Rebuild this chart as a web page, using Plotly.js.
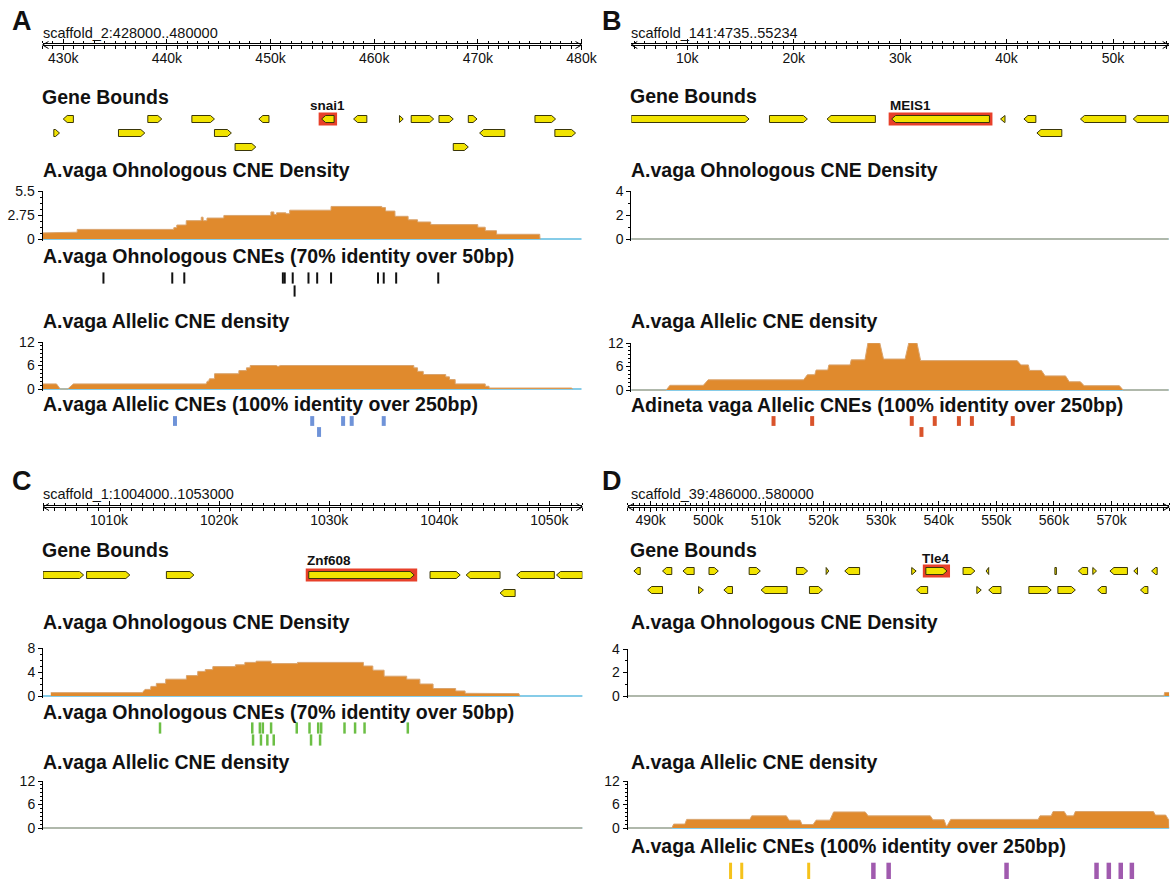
<!DOCTYPE html>
<html><head><meta charset="utf-8">
<script src="https://cdn.plot.ly/plotly-3.0.1.min.js"></script>
<style>html,body{margin:0;padding:0;background:#fff}#chart{width:1173px;height:879px}</style>
</head><body><div id="chart"></div>
<script>
// ================= DATA =================
// Panel A : scaffold_2
const A_range = [428000, 480000];
const A_tickVals = [430000, 440000, 450000, 460000, 470000, 480000];
const A_tickText = ['430k', '440k', '450k', '460k', '470k', '480k'];
const A_geneStart  = [430000, 438160, 442410, 448870, 454930, 458010, 462440, 463570, 466250, 469080, 475510, 429090, 435330, 444590, 470170, 477430, 446580, 467630];
const A_geneEnd    = [430980, 439510, 444590, 449850, 456130, 459290, 462800, 465740, 467630, 469920, 477500, 429640, 437870, 446220, 472600, 479430, 448580, 469080];
const A_geneStrand = [-1, 1, 1, -1, -1, -1, 1, 1, 1, 1, 1, 1, 1, 1, -1, 1, 1, 1];
const A_geneRow    = [1, 1, 1, 1, 1, 1, 1, 1, 1, 1, 1, 2, 2, 2, 2, 2, 3, 3];
const A_highlight = 4, A_highlightName = 'snai1';
const A_ohnoX0 = [428000, 430260, 431350, 440670, 440960, 441870, 443320, 443500, 443870, 445500, 450040, 450330, 450580, 451490, 451850, 455840, 460740, 461100, 462010, 463280, 464190, 465460, 470000, 470720, 471810, 476000];
const A_ohnoX1 = [430250, 431340, 440660, 440950, 441860, 443310, 443490, 443860, 445490, 450030, 450320, 450570, 451480, 451840, 455830, 460730, 461090, 462000, 463270, 464180, 465450, 469990, 470710, 471800, 475970, 476020];
const A_ohnoV  = [0.7, 0.78, 1.1, 1.3, 1.6, 2.1, 2.5, 2.1, 2.4, 2.7, 3.1, 2.8, 3.0, 2.9, 3.3, 3.73, 3.6, 3.2, 2.6, 2.2, 1.95, 1.65, 1.35, 0.95, 0.54, 0];
const A_ohnoTicks = [0, 2.75, 5.5];
const A_ohnoTickText = ['0', '2.75', '5.5'];
const A_ohnoCneX   = [433880, 440520, 441680, 451190, 451370, 452140, 453660, 454500, 455840, 460370, 460920, 462120, 466180, 452320];
const A_ohnoCneRow = [1, 1, 1, 1, 1, 1, 1, 1, 1, 1, 1, 1, 1, 2];
const A_alleX0 = [428000, 429710, 430980, 443900, 444100, 444600, 446950, 447680, 448040, 450680, 450940, 463830, 464190, 464740, 466910, 467270, 467820, 470720, 471090, 479100];
const A_alleX1 = [429350, 430430, 443790, 444040, 444590, 446940, 447670, 448030, 450570, 450800, 463820, 464180, 464730, 466900, 467260, 467810, 470710, 471080, 479060, 479150];
const A_alleV  = [1.3, 0, 1.3, 2.0, 2.6, 3.9, 4.7, 5.4, 6.0, 5.8, 6.0, 5.4, 4.5, 3.7, 3.1, 2.4, 1.3, 0.7, 0.25, 0];
const A_alleCneX   = [440780, 454020, 457000, 457830, 460920, 454680];
const A_alleCneRow = [1, 1, 1, 1, 1, 2];

// Panel B : scaffold_141
const B_range = [4735, 55234];
const B_tickVals = [10000, 20000, 30000, 40000, 50000];
const B_tickText = ['10k', '20k', '30k', '40k', '50k'];
const B_geneStart  = [4735, 17720, 23130, 29200, 39430, 41630, 46940, 51900, 42850];
const B_geneEnd    = [15800, 21280, 27670, 38390, 39850, 42750, 51200, 55234, 45190];
const B_geneStrand = [1, 1, -1, -1, -1, -1, -1, -1, -1];
const B_geneRow    = [1, 1, 1, 1, 1, 1, 1, 1, 2];
const B_highlight = 3, B_highlightName = 'MEIS1';
const B_ohnoX0 = [4735], B_ohnoX1 = [55234], B_ohnoV = [0];
const B_ohnoTicks = [0, 2, 4];
const B_ohnoTickText = ['0', '2', '4'];
const B_alleX0 = [4735, 8363, 11958, 21279, 22100, 23300, 25400, 26970, 28436, 30810, 31927, 41353, 42150, 43622, 45891, 47287, 50953];
const B_alleX1 = [8014, 11505, 20930, 21977, 23199, 25294, 26690, 28087, 30461, 31578, 41004, 42051, 43273, 45542, 46938, 50604, 55234];
const B_alleV  = [0, 1.2, 2.6, 3.9, 5.1, 6.4, 7.7, 12, 7.9, 12, 7.5, 6.4, 5.0, 3.6, 2.1, 1.1, 0];
const B_alleCneX   = [18100, 21730, 31090, 33250, 35520, 36740, 40580, 32000];
const B_alleCneRow = [1, 1, 1, 1, 1, 1, 1, 2];

// Panel C : scaffold_1
const C_range = [1004000, 1053000];
const C_tickVals = [1010000, 1020000, 1030000, 1040000, 1050000];
const C_tickText = ['1010k', '1020k', '1030k', '1040k', '1050k'];
const C_geneStart  = [1004000, 1007960, 1015210, 1028140, 1039160, 1042440, 1047030, 1050650, 1045520];
const C_geneEnd    = [1007690, 1011890, 1017710, 1037720, 1041900, 1045520, 1050450, 1053000, 1046890];
const C_geneStrand = [1, 1, 1, 1, 1, -1, -1, -1, -1];
const C_geneRow    = [1, 1, 1, 1, 1, 1, 1, 1, 2];
const C_highlight = 3, C_highlightName = 'Znf608';
const C_ohnoX0 = [1004709, 1013262, 1013800, 1014300, 1015150, 1017030, 1018060, 1018740, 1019430, 1021480, 1022340, 1023360, 1024730, 1027120, 1033110, 1033970, 1034990, 1037040, 1038240, 1039440, 1041490, 1042350, 1043710, 1047300];
const C_ohnoX1 = [1013022, 1013775, 1014288, 1015143, 1017025, 1018051, 1018735, 1019420, 1021472, 1022328, 1023354, 1024722, 1027117, 1033104, 1033959, 1034985, 1037038, 1038235, 1039433, 1041485, 1042340, 1043709, 1047233, 1047350];
const C_ohnoV  = [0.56, 1.1, 1.6, 2.1, 2.8, 3.4, 4.1, 4.4, 4.9, 5.2, 5.6, 5.8, 5.4, 5.6, 5.0, 4.3, 3.3, 2.8, 2.0, 1.25, 0.84, 0.45, 0.4, 0];
const C_ohnoTicks = [0, 4, 8];
const C_ohnoTickText = ['0', '4', '8'];
const C_ohnoCneX   = [1014630, 1023010, 1023700, 1023970, 1024720, 1027050, 1028210, 1029000, 1029270, 1031390, 1032350, 1033210, 1037140, 1023080, 1023800, 1024380, 1024960, 1028350, 1029170];
const C_ohnoCneRow = [1, 1, 1, 1, 1, 1, 1, 1, 1, 1, 1, 1, 1, 2, 2, 2, 2, 2, 2];
const C_alleX0 = [1004000], C_alleX1 = [1053000], C_alleV = [0];

// Panel D : scaffold_39
const D_range = [486000, 580000];
const D_tickVals = [490000, 500000, 510000, 520000, 530000, 540000, 550000, 560000, 570000];
const D_tickText = ['490k', '500k', '510k', '520k', '530k', '540k', '550k', '560k', '570k'];
const D_geneStart  = [487090, 492060, 495610, 500130, 507100, 515300, 520460, 523690, 535310, 537760, 544220, 548220, 560160, 564230, 566740, 569710, 573850, 576940,
                      489480, 498320, 502710, 509170, 517560, 536150, 546610, 548670, 555640, 560680, 567580, 575010];
const D_geneEnd    = [488190, 493670, 497550, 501740, 509040, 517240, 520910, 526270, 536080, 541440, 546280, 548670, 560420, 565840, 567390, 572750, 574490, 577910,
                      492060, 499160, 504200, 513690, 519820, 538080, 547380, 550800, 559520, 563710, 569070, 576300];
const D_geneStrand = [-1, -1, -1, 1, 1, 1, 1, -1, 1, 1, 1, -1, 0, -1, 1, -1, -1, -1,
                      -1, 1, -1, -1, 1, -1, 1, -1, 1, 1, -1, -1];
const D_geneRow    = [1, 1, 1, 1, 1, 1, 1, 1, 1, 1, 1, 1, 1, 1, 1, 1, 1, 1,
                      2, 2, 2, 2, 2, 2, 2, 2, 2, 2, 2, 2];
const D_highlight = 9, D_highlightName = 'Tle4';
const D_ohnoX0 = [486000, 579200], D_ohnoX1 = [579100, 580000], D_ohnoV = [0, 0.3];
const D_ohnoTicks = [0, 2, 4];
const D_ohnoTickText = ['0', '2', '4'];
const D_alleX0 = [486000, 493997, 496256, 507552, 514007, 516267, 518719, 521753, 527756, 538988, 541300, 542086, 557579, 559838, 562227, 563712, 577591, 579850, 579990];
const D_alleX1 = [493674, 495933, 507230, 513556, 515944, 518203, 521108, 527240, 538536, 540924, 541441, 557256, 559515, 561775, 563389, 577268, 579398, 579950, 580000];
const D_alleV  = [0, 1.0, 2.2, 3.1, 2.0, 0.9, 2.0, 4.1, 3.1, 2.1, 0.5, 2.2, 3.1, 4.2, 3.1, 4.2, 3.3, 2.2, 0];
const D_alleCneX   = [503870, 505810, 517430, 528660, 531310, 551770, 567390, 569520, 571590, 573520];
const D_alleCneRow = [1, 1, 1, 1, 1, 1, 1, 1, 1, 1];
const D_alleCneSet = [1, 1, 1, 2, 2, 2, 2, 2, 2, 2];

const ALLELIC_TICKS = [0, 6, 12];
const ALLELIC_TICKTEXT = ['0', '6', '12'];

// ================= STYLE / LAYOUT =================
const W = 1173, H = 879;
const FONT = '"Liberation Sans", Arial, Helvetica, sans-serif';
const TITLE_SIZE = 19.5;
const COL = {
  gene: '#F1E300', geneLine: '#3a3608', highlight: '#E8402A',
  dens: '#E08A2D', densLine: '#D9A46E', base: '#86CCE8',
  black: '#111111', blueCne: '#6F93D8', redCne: '#D9532B', greenCne: '#6CBF45',
  yellowCne: '#F5C21B', purpleCne: '#A05AAE'
};
const fx = p => p / W;
const fy = p => 1 - p / H;

const traces = [];
const layout = {
  width: W, height: H, margin: {l: 0, r: 0, t: 0, b: 0},
  paper_bgcolor: '#ffffff', plot_bgcolor: 'rgba(0,0,0,0)',
  showlegend: false, hovermode: false,
  font: {family: FONT, color: COL.black},
  shapes: [], annotations: []
};
let yN = 0, xN = 0;
function newY(cfg) {
  yN++;
  const name = yN === 1 ? 'yaxis' : 'yaxis' + yN;
  layout[name] = Object.assign({fixedrange: true, showgrid: false, zeroline: false}, cfg);
  return yN === 1 ? 'y' : 'y' + yN;
}
function text(x, y, t, size, opts) {
  layout.annotations.push(Object.assign({
    xref: 'paper', yref: 'paper', x: fx(x), y: fy(y), text: t, showarrow: false,
    xanchor: 'left', yanchor: 'middle', borderpad: 0,
    font: {family: FONT, size: size, color: COL.black}
  }, opts || {}));
}
function hiddenY(rowPx, nRows, xref) {
  const sp = rowPx.length > 1 ? rowPx[1] - rowPx[0] : 14;
  const top = rowPx[0] - sp / 2, bot = rowPx[0] + (nRows - 0.5) * sp;
  const ref = newY({domain: [fy(bot), fy(top)], range: [-(nRows + 0.5), -0.5], anchor: xref,
    showline: false, showticklabels: false, ticks: ''});
  return {ref, sp};
}
function steps(x0, x1, v) {
  const X = [], Y = [];
  for (let i = 0; i < x0.length; i++) { X.push(x0[i], x1[i]); Y.push(v[i], v[i]); }
  return {X, Y};
}

function buildPanel(P) {
  xN++;
  const xref = xN === 1 ? 'x' : 'x' + xN;
  const xname = xN === 1 ? 'xaxis' : 'xaxis' + xN;
  const unitPerPx = (P.range[1] - P.range[0]) / (P.xPx[1] - P.xPx[0]);

  // letter + scaffold name
  text(P.letterPos[0], P.letterPos[1], '<b>' + P.letter + '</b>', 27, {xanchor: 'center'});
  text(P.textX, P.scaffY, P.scaffold, 14.5);

  // ruler: thin 1px subplot whose bottom axis line is the ruler, ticks mirrored on top
  const ry = newY({domain: [fy(P.rulerY), fy(P.rulerY - 0.6)], range: [0, 1], anchor: xref,
    showline: false, showticklabels: false, ticks: ''});
  layout[xname] = {
    domain: [fx(P.xPx[0]), fx(P.xPx[1])], range: P.range, anchor: ry, side: 'bottom',
    showline: true, linecolor: '#000', linewidth: 1, mirror: 'ticks',
    ticks: 'outside', ticklen: 4, tickwidth: 1, tickcolor: '#000',
    tickmode: 'array', tickvals: P.tickVals, ticktext: P.tickText, ticklabelstandoff: -4,
    tickfont: {family: FONT, size: 14, color: COL.black},
    minor: {tickmode: 'linear', tick0: 0, dtick: 1000, ticks: 'outside', ticklen: 2.5, tickwidth: 1, tickcolor: '#000', showgrid: false},
    showgrid: false, zeroline: false, fixedrange: true
  };
  traces.push({type: 'scatter', mode: 'lines', x: [P.range[0]], y: [0.5], xaxis: xref, yaxis: ry, hoverinfo: 'skip', line: {width: 0}});
  [[P.xPx[0], -1], [P.xPx[1], 1]].forEach(([xp, dir]) => {
    layout.shapes.push({type: 'path', xref: 'paper', yref: 'paper',
      path: `M${fx(xp - dir * 6)},${fy(P.rulerY - 3.5)} L${fx(xp)},${fy(P.rulerY)} L${fx(xp - dir * 6)},${fy(P.rulerY + 3.5)}`,
      line: {color: '#000', width: 1}});
  });

  // genes
  const G = P.genes;
  text(P.textX - 1, G.titleY, '<b>Gene Bounds</b>', TITLE_SIZE);
  const nRows = Math.max(...G.row);
  const gy = hiddenY(G.rowPx, nRows, xref);
  const tip = 4 * unitPerPx, hh = 3.5 / gy.sp;
  const X = [], Y = [];
  for (let i = 0; i < G.start.length; i++) {
    const s = G.start[i], e = G.end[i], y = -G.row[i];
    let pts;
    if (G.strand[i] > 0) {
      const t = Math.max(s, e - tip);
      pts = [[s, y - hh], [t, y - hh], [e, y], [t, y + hh], [s, y + hh], [s, y - hh]];
    } else if (G.strand[i] < 0) {
      const t = Math.min(e, s + tip);
      pts = [[e, y - hh], [t, y - hh], [s, y], [t, y + hh], [e, y + hh], [e, y - hh]];
    } else {
      pts = [[s, y - hh], [e, y - hh], [e, y + hh], [s, y + hh], [s, y - hh]];
    }
    pts.forEach(p => { X.push(p[0]); Y.push(p[1]); });
    X.push(null); Y.push(null);
  }
  const h = G.hi;
  const padX = 3 * unitPerPx, padY = hh + 3 / gy.sp;
  layout.shapes.push({type: 'rect', xref: xref, yref: gy.ref, layer: 'below',
    x0: G.start[h] - padX, x1: G.end[h] + padX, y0: -G.row[h] - padY, y1: -G.row[h] + padY,
    fillcolor: COL.highlight, line: {width: 0}});
  traces.push({type: 'scatter', mode: 'lines', x: X, y: Y, xaxis: xref, yaxis: gy.ref,
    fill: 'toself', fillcolor: COL.gene, line: {color: COL.geneLine, width: 1}, hoverinfo: 'skip'});
  const lx = G.labelAlign === 'center' ? (G.start[h] + G.end[h]) / 2 : G.start[h] - padX;
  layout.annotations.push({xref: xref, yref: 'paper', x: lx, y: fy(G.labelY), text: '<b>' + G.label + '</b>',
    showarrow: false, xanchor: G.labelAlign === 'center' ? 'center' : 'left', yanchor: 'middle', borderpad: 0,
    font: {family: FONT, size: 13.5, color: COL.black}});

  // tracks
  P.tracks.forEach(T => {
    text(P.textX, T.titleY, '<b>' + T.title + '</b>', TITLE_SIZE);
    if (T.kind === 'density') {
      const upp = T.max / (T.zeroPx - T.topPx);
      const pad = 1.5;
      const dy = newY({domain: [fy(T.zeroPx + pad), fy(T.topPx)], range: [-pad * upp, T.max], anchor: xref,
        showline: true, linecolor: '#000', linewidth: 1, ticks: 'outside', ticklen: 4, tickwidth: 1, tickcolor: '#000',
        tickmode: 'array', tickvals: T.tickVals, ticktext: T.tickText,
        tickfont: {family: FONT, size: 14, color: COL.black},
        minor: {tickmode: 'linear', tick0: 0, dtick: T.minor, ticks: 'outside', ticklen: 2, tickwidth: 1, tickcolor: '#000', showgrid: false}});
      layout.shapes.push({type: 'line', xref: xref + ' domain', yref: dy, x0: 0, x1: 1, y0: 0, y1: 0,
        line: {color: COL.base, width: 2}, layer: 'below'});
      const s = steps(T.x0, T.x1, T.v);
      traces.push({type: 'scatter', mode: 'lines', x: s.X, y: s.Y, xaxis: xref, yaxis: dy,
        fill: 'tozeroy', fillcolor: COL.dens, line: {color: COL.densLine, width: 1}, hoverinfo: 'skip'});
    } else {
      const nR = Math.max(...T.rows);
      const cy = hiddenY(T.rowPx, nR, xref);
      traces.push({type: 'scatter', mode: 'markers', x: T.x, y: T.rows.map(r => -r), xaxis: xref, yaxis: cy.ref,
        cliponaxis: false, hoverinfo: 'skip',
        marker: {symbol: 'line-ns', size: T.size, color: T.color, line: {color: T.color, width: T.width}}});
    }
  });
}

const panels = [
  {letter: 'A', letterPos: [22, 21], scaffold: 'scaffold_2:428000..480000', textX: 42, scaffY: 33,
   xPx: [42.5, 581.5], range: A_range, tickVals: A_tickVals, tickText: A_tickText, rulerY: 45,
   genes: {titleY: 97, rowPx: [119, 133, 147], start: A_geneStart, end: A_geneEnd, strand: A_geneStrand, row: A_geneRow,
           hi: A_highlight, label: A_highlightName, labelY: 106, labelAlign: 'center'},
   tracks: [
     {kind: 'density', title: 'A.vaga Ohnologous CNE Density', titleY: 170, topPx: 191, zeroPx: 239, max: 5.5,
      tickVals: A_ohnoTicks, tickText: A_ohnoTickText, minor: 0.6875, x0: A_ohnoX0, x1: A_ohnoX1, v: A_ohnoV},
     {kind: 'cne', title: 'A.vaga Ohnologous CNEs (70% identity over 50bp)', titleY: 256, rowPx: [278, 291],
      x: A_ohnoCneX, rows: A_ohnoCneRow, color: COL.black, width: 2, size: 8},
     {kind: 'density', title: 'A.vaga Allelic CNE density', titleY: 321, topPx: 342, zeroPx: 389, max: 12,
      tickVals: ALLELIC_TICKS, tickText: ALLELIC_TICKTEXT, minor: 1, x0: A_alleX0, x1: A_alleX1, v: A_alleV},
     {kind: 'cne', title: 'A.vaga Allelic CNEs (100% identity over 250bp)', titleY: 404, rowPx: [421, 432],
      x: A_alleCneX, rows: A_alleCneRow, color: COL.blueCne, width: 4, size: 7}
   ]},
  {letter: 'B', letterPos: [612, 21], scaffold: 'scaffold_141:4735..55234', textX: 630, scaffY: 33,
   xPx: [631.3, 1168.7], range: B_range, tickVals: B_tickVals, tickText: B_tickText, rulerY: 45,
   genes: {titleY: 96, rowPx: [119, 133], start: B_geneStart, end: B_geneEnd, strand: B_geneStrand, row: B_geneRow,
           hi: B_highlight, label: B_highlightName, labelY: 105, labelAlign: 'left'},
   tracks: [
     {kind: 'density', title: 'A.vaga Ohnologous CNE Density', titleY: 170, topPx: 191, zeroPx: 239, max: 4,
      tickVals: B_ohnoTicks, tickText: B_ohnoTickText, minor: 1, x0: B_ohnoX0, x1: B_ohnoX1, v: B_ohnoV},
     {kind: 'density', title: 'A.vaga Allelic CNE density', titleY: 321, topPx: 343, zeroPx: 390, max: 12,
      tickVals: ALLELIC_TICKS, tickText: ALLELIC_TICKTEXT, minor: 1, x0: B_alleX0, x1: B_alleX1, v: B_alleV},
     {kind: 'cne', title: 'Adineta vaga Allelic CNEs (100% identity over 250bp)', titleY: 405, rowPx: [421, 432],
      x: B_alleCneX, rows: B_alleCneRow, color: COL.redCne, width: 4, size: 7}
   ]},
  {letter: 'C', letterPos: [22, 481], scaffold: 'scaffold_1:1004000..1053000', textX: 42, scaffY: 494,
   xPx: [43, 582.4], range: C_range, tickVals: C_tickVals, tickText: C_tickText, rulerY: 507,
   genes: {titleY: 550, rowPx: [575, 593], start: C_geneStart, end: C_geneEnd, strand: C_geneStrand, row: C_geneRow,
           hi: C_highlight, label: C_highlightName, labelY: 560, labelAlign: 'left'},
   tracks: [
     {kind: 'density', title: 'A.vaga Ohnologous CNE Density', titleY: 622, topPx: 648, zeroPx: 696, max: 8,
      tickVals: C_ohnoTicks, tickText: C_ohnoTickText, minor: 1, x0: C_ohnoX0, x1: C_ohnoX1, v: C_ohnoV},
     {kind: 'cne', title: 'A.vaga Ohnologous CNEs (70% identity over 50bp)', titleY: 712, rowPx: [728, 740],
      x: C_ohnoCneX, rows: C_ohnoCneRow, color: COL.greenCne, width: 2.5, size: 8},
     {kind: 'density', title: 'A.vaga Allelic CNE density', titleY: 762, topPx: 781, zeroPx: 828, max: 12,
      tickVals: ALLELIC_TICKS, tickText: ALLELIC_TICKTEXT, minor: 1, x0: C_alleX0, x1: C_alleX1, v: C_alleV}
   ]},
  {letter: 'D', letterPos: [612, 481], scaffold: 'scaffold_39:486000..580000', textX: 630, scaffY: 494,
   xPx: [627.6, 1169.2], range: D_range, tickVals: D_tickVals, tickText: D_tickText, rulerY: 507,
   genes: {titleY: 550, rowPx: [571, 590], start: D_geneStart, end: D_geneEnd, strand: D_geneStrand, row: D_geneRow,
           hi: D_highlight, label: D_highlightName, labelY: 558, labelAlign: 'center'},
   tracks: [
     {kind: 'density', title: 'A.vaga Ohnologous CNE Density', titleY: 622, topPx: 649, zeroPx: 696, max: 4,
      tickVals: D_ohnoTicks, tickText: D_ohnoTickText, minor: 1, x0: D_ohnoX0, x1: D_ohnoX1, v: D_ohnoV},
     {kind: 'density', title: 'A.vaga Allelic CNE density', titleY: 762, topPx: 781, zeroPx: 828, max: 12,
      tickVals: ALLELIC_TICKS, tickText: ALLELIC_TICKTEXT, minor: 1, x0: D_alleX0, x1: D_alleX1, v: D_alleV},
     {kind: 'cne', title: 'A.vaga Allelic CNEs (100% identity over 250bp)', titleY: 846, rowPx: [873],
      x: D_alleCneX, rows: D_alleCneRow, color: D_alleCneSet.map(s => s === 1 ? COL.yellowCne : COL.purpleCne),
      width: D_alleCneSet.map(s => s === 1 ? 3 : 4.5), size: 14}
   ]}
];
panels.forEach(buildPanel);

Plotly.newPlot('chart', traces, layout, {staticPlot: true, displayModeBar: false});
</script></body></html>
